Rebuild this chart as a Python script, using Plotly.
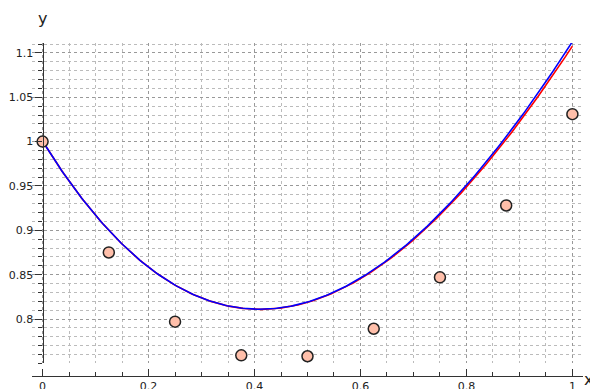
import numpy as np
import plotly.graph_objects as go

# data points
pt_x = [0.0, 0.125, 0.25, 0.375, 0.5, 0.625, 0.75, 0.875, 1.0]
pt_y = [1.0, 0.875, 0.797, 0.759, 0.758, 0.789, 0.847, 0.928, 1.031]

# fitted curves (polynomial coefficients, highest power first)
red_coef = [-0.005, -0.26, 1.3398, -0.9675, 1.0004]
blue_coef = [-0.26, 1.3398, -0.9675, 1.0004]

x_ticks = [0, 0.2, 0.4, 0.6, 0.8, 1]
x_tick_text = ["0", "0.2", "0.4", "0.6", "0.8", "1"]
y_ticks = [0.8, 0.85, 0.9, 0.95, 1.0, 1.05, 1.1]
y_tick_text = ["0.8", "0.85", "0.9", "0.95", "1", "1.05", "1.1"]

xs = np.linspace(0, 1, 300)

fig = go.Figure()
fig.add_trace(go.Scatter(x=xs, y=np.polyval(red_coef, xs), mode="lines",
                         line=dict(color="#ff0000", width=1.6), hoverinfo="skip"))
fig.add_trace(go.Scatter(x=xs, y=np.polyval(blue_coef, xs), mode="lines",
                         line=dict(color="#0000ff", width=1.6), hoverinfo="skip"))
fig.add_trace(go.Scatter(x=pt_x, y=pt_y, mode="markers",
                         marker=dict(size=11, color="#ffbfaa",
                                     line=dict(color="#222222", width=1.5)),
                         cliponaxis=False))

fig.update_layout(
    width=590, height=381,
    margin=dict(l=24, r=15, t=35, b=13, autoexpand=False),
    paper_bgcolor="white", plot_bgcolor="white",
    showlegend=False,
    font=dict(family="DejaVu Sans", size=11, color="#222"),
    xaxis=dict(
        range=[-0.02, 1.02], anchor="free", position=0, automargin=False,
        tickmode="array", tickvals=x_ticks, ticktext=x_tick_text,
        showline=True, linecolor="#333", linewidth=1.2,
        ticks="inside", ticklen=7, tickcolor="#333", tickwidth=1,
        ticklabelstandoff=0,
        showgrid=True, gridcolor="#999", griddash="dot", gridwidth=1,
        zeroline=False,
        minor=dict(dtick=0.05, tick0=0, ticks="inside", ticklen=4,
                   tickcolor="#333", showgrid=True, gridcolor="#bbb",
                   griddash="dot", gridwidth=1),
    ),
    yaxis=dict(
        range=[0.75, 1.1112], domain=[0.038, 1], automargin=False,
        anchor="free", position=0.02 / 1.04,
        tickmode="array", tickvals=y_ticks, ticktext=y_tick_text,
        showline=True, linecolor="#333", linewidth=1.2,
        ticks="outside", ticklen=7, tickcolor="#333", tickwidth=1,
        showgrid=True, gridcolor="#999", griddash="dot", gridwidth=1,
        zeroline=False,
        minor=dict(dtick=0.01, tick0=0.75, ticks="outside", ticklen=4,
                   tickcolor="#333", showgrid=True, gridcolor="#bbb",
                   griddash="dot", gridwidth=1),
    ),
    annotations=[
        dict(text="y", x=0, xref="x", y=1.075, yref="paper", showarrow=False,
             font=dict(size=16, color="#222"), xanchor="center", yanchor="middle"),
        dict(text="x", x=(587 - 24) / 551, xref="paper", y=-0.01, yref="paper",
             showarrow=False, font=dict(size=16, color="#222"),
             xanchor="right", yanchor="middle"),
    ],
)

fig.write_html("out.html")
